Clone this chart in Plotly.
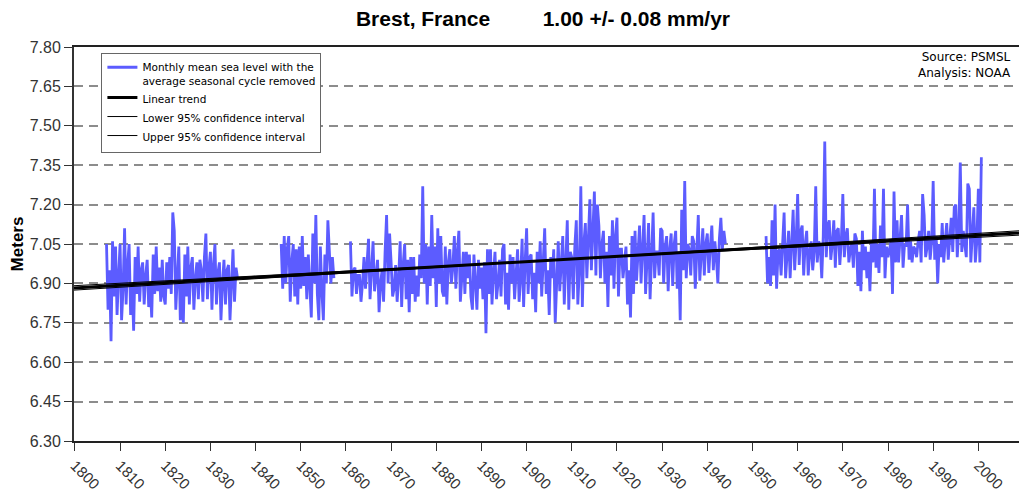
import numpy as np
import plotly.graph_objects as go

# ---------------- data ----------------
samples_per_year = 3
seg_starts = [1807.0, 1845.67, 1861.0, 1953.0]

seg1 = [
    7.05, 6.80, 6.95,  6.68, 7.06, 6.85,  7.04, 6.78, 6.93,  7.05, 6.76, 6.88,
    7.11, 6.82, 6.97,  7.05, 6.78, 6.90,  6.72, 7.00, 6.86,  7.04, 6.83, 6.95,
    6.98, 6.82, 6.93,  6.99, 6.81, 6.90,  6.77, 7.01, 6.86,  7.04, 6.87, 6.96,
    6.83, 6.99, 6.85,  6.82, 6.98, 6.88,  7.00, 6.86, 7.17,  7.10, 6.80, 6.95,
    7.04, 6.76, 6.90,  6.75, 7.01, 6.85,  7.04, 6.82, 6.96,  7.00, 6.80, 6.92,
    6.98, 6.84, 6.99,  6.95, 6.83, 7.00,  7.09, 6.84, 6.96,  7.02, 6.80, 6.97,
    7.05, 6.82, 6.94,  6.98, 6.76, 6.90,  6.99, 6.82, 6.95,  6.97, 6.76, 6.90,
    7.03, 6.83, 6.96,  6.92,
]
seg2 = [
    7.05, 6.88,
    7.08, 6.90, 7.03,  7.08, 6.83, 6.98,  7.05, 6.85, 7.03,  6.82, 7.04, 6.88,
    7.08, 6.89, 7.00,  6.84, 7.01, 6.87,  6.77, 7.09, 6.90,  7.16, 6.86, 6.76,
    7.04, 6.87, 6.76,  7.01, 6.90, 7.14,  7.04, 6.90, 7.00,  6.92,
]
seg3 = [
    7.06, 6.85, 6.95,  6.96, 6.86, 6.93,  6.93, 6.83, 6.90,  7.00, 6.88, 6.96,
    7.07, 6.84, 6.95,  7.06, 6.87, 6.93,  6.99, 6.79, 6.90,  6.95, 6.83, 7.02,
    7.16, 6.90, 7.09,  6.98, 6.85, 6.88,  6.97, 6.83, 6.92,  7.06, 6.81, 6.97,
    7.05, 6.84, 6.99,  6.79, 7.00, 6.86,  7.00, 6.83, 6.93,  6.85, 7.01, 6.92,
    7.27, 6.90, 7.05,  6.82, 7.04, 6.89,  7.16, 6.92, 7.04,  6.81, 7.11, 6.90,
    7.08, 6.87, 6.85,  7.04, 6.82, 6.98,  7.03, 6.90, 6.96,  7.08, 6.88, 7.02,
    7.10, 6.83, 6.95,  7.02, 6.86, 7.02,  6.92, 7.01, 6.85,  6.80, 7.01, 6.90,
    6.80, 6.99, 6.88,  6.96, 6.84, 6.98,  6.71, 7.03, 6.86,  7.03, 6.82, 6.94,
    7.02, 6.84, 6.90,  6.99, 6.85, 7.03,  7.05, 6.82, 6.94,  6.80, 7.01, 6.90,
    7.00, 6.84, 6.96,  7.03, 6.83, 6.92,  7.07, 6.81, 6.98,  7.11, 6.86, 7.00,
    7.01, 6.84, 6.94,  6.79, 7.02, 6.90,  7.06, 6.85, 6.98,  7.11, 6.86, 6.95,
    6.78, 7.00, 6.92,  7.03, 6.75, 6.90,  7.06, 6.87, 6.97,  7.08, 6.82, 7.00,
    7.14, 6.80, 7.02,  7.00, 6.84, 7.04,  7.14, 6.82, 6.95,  7.27, 6.81, 7.05,
    7.13, 6.92, 7.05,  7.22, 6.95, 7.10,  7.25, 6.93, 7.20,  7.12, 6.92, 7.05,
    7.10, 6.90, 7.02,  6.81, 7.08, 6.93,  7.14, 6.88, 7.08,  7.15, 6.85, 7.03,
    7.03, 6.92, 7.00,  7.04, 6.82, 6.95,  6.77, 7.08, 6.86,  7.10, 6.91, 7.04,
    7.12, 6.90, 7.06,  7.16, 6.86, 7.00,  7.13, 6.84, 7.04,  7.17, 6.92, 7.02,
    7.02, 6.93, 7.11,  7.10, 6.90, 7.04,  7.08, 6.87, 7.03,  7.09, 6.89, 7.05,
    7.10, 6.88, 7.02,  6.76, 7.18, 6.95,  7.29, 6.92, 7.05,  7.03, 6.93, 7.08,
    7.06, 6.88, 7.02,  7.16, 6.91, 7.03,  7.11, 6.93, 7.05,  7.09, 6.94, 7.04,
    7.12, 6.95, 7.06,  7.00, 6.90, 7.07,  7.15, 7.03, 7.10,  7.05,
]
seg4 = [
    7.08, 6.90, 7.00,  6.89, 7.14, 6.93,  7.20, 6.88, 7.02,  7.03, 6.93, 7.06,
    7.17, 6.92, 7.00,  7.10, 6.92, 7.05,  7.18, 6.95, 7.06,  7.24, 6.97, 7.10,
    7.12, 6.93, 7.05,  7.10, 6.93, 7.02,  7.06, 6.95, 7.02,  7.27, 6.98, 7.06,
    7.04, 6.92, 7.08,  7.44, 7.00, 7.12,  7.14, 6.99, 7.05,  7.14, 6.96, 7.10,
    7.11, 6.97, 7.06,  7.24, 7.00, 7.08,  7.11, 6.98, 7.03,  7.05, 6.96, 7.09,
    7.07, 6.89, 7.02,  6.87, 7.10, 6.95,  7.04, 6.92, 7.02,  6.87, 7.06, 6.98,
    7.26, 6.96, 7.05,  6.94, 7.12, 7.00,  7.26, 6.92, 7.04,  7.00, 7.04, 7.06,
    6.86, 7.25, 6.98,  7.14, 6.98, 7.08,  7.16, 6.96, 7.05,  7.04, 7.20, 6.99,
    7.06, 6.98, 7.04,  7.03, 7.00, 7.06,  7.10, 6.98, 7.24,  7.16, 7.00, 7.04,
    7.10, 6.99, 7.06,  7.29, 6.99, 7.08,  6.90, 7.05, 7.00,  7.13, 6.98, 7.06,
    7.13, 6.99, 7.08,  7.15, 7.02, 7.19,  7.20, 7.00, 7.10,  7.36, 7.02, 7.10,
    7.05, 7.00, 7.28,  7.26, 6.98, 7.10,  7.19, 6.98, 7.06,  7.26, 6.98, 7.38,
]
segments = [seg1, seg2, seg3, seg4]

trend_rate_mm = 1.00      # mm/yr
ci_rate_mm = 0.08         # mm/yr
trend_at_1800 = 6.883     # m
pivot_year = 1905

x_range = [1799.8, 2009.0]
y_range = [6.30, 7.80]
y_ticks = [6.30, 6.45, 6.60, 6.75, 6.90, 7.05, 7.20, 7.35, 7.50, 7.65, 7.80]
x_ticks = list(range(1800, 2001, 10))

# ---------------- build series ----------------
xs, ys = [], []
for start, vals in zip(seg_starts, segments):
    t = start + np.arange(len(vals)) / samples_per_year
    xs.extend(t.tolist()); ys.extend(vals)
    xs.append(None); ys.append(None)

xl = np.array(x_range)
trend = trend_at_1800 + trend_rate_mm / 1000 * (xl - 1800)
y_piv = trend_at_1800 + trend_rate_mm / 1000 * (pivot_year - 1800)
lower = y_piv + (trend_rate_mm - ci_rate_mm) / 1000 * (xl - pivot_year)
upper = y_piv + (trend_rate_mm + ci_rate_mm) / 1000 * (xl - pivot_year)

BLUE = "#5c5cff"
fig = go.Figure()
fig.add_trace(go.Scatter(x=xs, y=ys, mode="lines", connectgaps=False,
                         line=dict(color=BLUE, width=2.8),
                         name="Monthly mean sea level with the<br>average seasonal cycle removed"))
fig.add_trace(go.Scatter(x=xl, y=trend, mode="lines", line=dict(color="black", width=3),
                         name="Linear trend"))
fig.add_trace(go.Scatter(x=xl, y=lower, mode="lines", line=dict(color="black", width=1),
                         name="Lower 95% confidence interval"))
fig.add_trace(go.Scatter(x=xl, y=upper, mode="lines", line=dict(color="black", width=1),
                         name="Upper 95% confidence interval"))

nb = "\u00a0"
fig.update_layout(
    width=1019, height=498,
    margin=dict(l=74, r=0, t=47, b=57),
    paper_bgcolor="white", plot_bgcolor="white",
    font=dict(family="Liberation Sans, Arial, sans-serif", color="#333"),
    title=dict(text="<b>Brest, France" + nb * 9 + "1.00 +/- 0.08 mm/yr</b>",
               x=543 / 1019, xanchor="center", y=1 - 19 / 498, yanchor="middle",
               font=dict(size=21, color="black")),
    showlegend=True,
    legend=dict(x=0.029, y=0.985, xanchor="left", yanchor="top",
                bgcolor="white", bordercolor="#666", borderwidth=1,
                font=dict(family="DejaVu Sans", size=10.5, color="black"),
                valign="top", tracegroupgap=0, itemwidth=30),
    xaxis=dict(range=x_range, tickvals=x_ticks, tickangle=45,
               ticks="outside", ticklen=8, tickcolor="#333", tickwidth=1,
               showline=True, linecolor="#222", linewidth=2, mirror=True,
               showgrid=False, zeroline=False,
               tickfont=dict(size=15, color="#333")),
    yaxis=dict(range=y_range, tickvals=y_ticks, tickformat=".2f",
               ticks="outside", ticklen=8, tickcolor="#333", tickwidth=1,
               showline=True, linecolor="#333", linewidth=2,
               showgrid=True, gridcolor="#8c8c8c", gridwidth=2, griddash="9px,6px",
               zeroline=False,
               tickfont=dict(size=16, color="#333"),
               title=dict(text="<b>Meters</b>", font=dict(size=17, color="black"), standoff=2)),
)
fig.add_annotation(x=1, xref="paper", y=1 - 18 / 394, yref="paper",
                   xanchor="right", yanchor="middle", align="right", showarrow=False,
                   text="Source: PSMSL<br>Analysis: NOAA", xshift=-6,
                   font=dict(family="DejaVu Sans", size=12, color="black"))

fig.write_html("out.html", config={"displayModeBar": False},
               post_script="document.body.style.margin='0px';")
